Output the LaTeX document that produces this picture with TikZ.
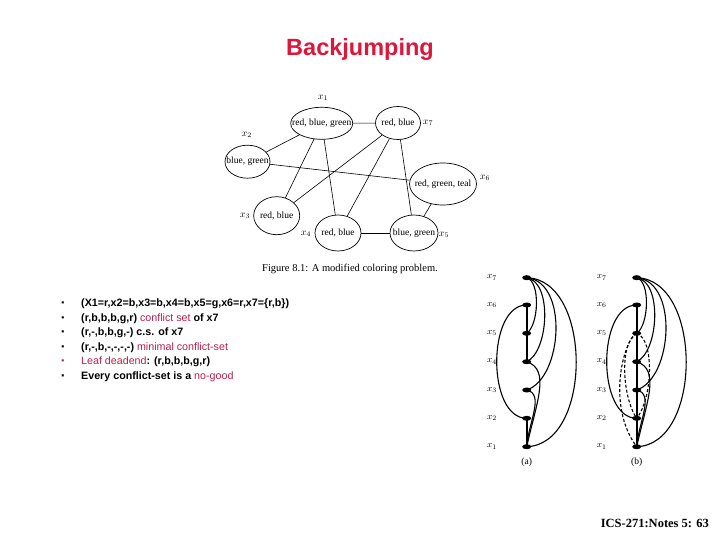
\documentclass[tikz,border=0pt]{standalone}
\usepackage{fontspec}
\setmainfont{Liberation Sans}
\newfontfamily\serifb{Liberation Serif}
\usetikzlibrary{calc,shapes.geometric}
\definecolor{titlered}{RGB}{222,22,60}
\definecolor{txtred}{RGB}{185,30,75}
\begin{document}
\begin{tikzpicture}[x=1pt,y=-1pt,
  vell/.style={draw,ellipse,inner sep=0pt,line width=0.7pt},
  etxt/.style={font=\serifb\fontsize{9.5}{10}\selectfont,inner sep=0pt},
  vlab/.style={font=\fontsize{10}{10}\selectfont,inner sep=0pt},
  gedge/.style={line width=0.6pt},
  bul/.style={anchor=center,inner sep=0pt,font=\fontsize{8.5}{9}\selectfont},
  btxt/.style={anchor=west,inner sep=0pt,font=\bfseries\fontsize{10.7}{12}\selectfont},
  dot/.style={fill,ellipse,minimum width=9pt,minimum height=5pt,inner sep=0pt},
  olab/.style={font=\fontsize{9.5}{10}\selectfont,inner sep=0pt},
  stem/.style={line width=2.2pt},
  arcl/.style={line width=1.1pt},
  darc/.style={line width=1.1pt,dash pattern=on 3pt off 2pt}]
\useasboundingbox (0,0) rectangle (720,540);

% title
\node[font=\bfseries\fontsize{23.5}{26}\selectfont,text=titlered] (title) at (360,49) {Backjumping};

% coloring problem graph
\node[vell,minimum width=62pt,minimum height=32pt] (v1) at (321.7,123.3) {};
\node[vell,minimum width=45pt,minimum height=33pt] (v7) at (398,123) {};
\node[vell,minimum width=45pt,minimum height=33pt] (v2) at (247.5,161.7) {};
\node[vell,minimum width=67pt,minimum height=42pt] (v6) at (443,184) {};
\node[vell,minimum width=46pt,minimum height=38pt] (v3) at (276.7,215.7) {};
\node[vell,minimum width=46pt,minimum height=36pt] (v4) at (338,233) {};
\node[vell,minimum width=48pt,minimum height=36pt] (v5) at (414,233) {};

\draw[gedge] (v1) -- (v7);
\draw[gedge] (v1) -- (v2);
\draw[gedge] (v1) -- (v3);
\draw[gedge] (v1) -- (v4);
\draw[gedge] (v7) -- (v3);
\draw[gedge] (v7) -- (v4);
\draw[gedge] (v7) -- (v5);
\draw[gedge] (v2) -- (v6);
\draw[gedge] (v6) -- (v5);
\draw[gedge] (v4) -- (v5);

\node[etxt,fill=white] (t1) at (v1) {red, blue, green};
\node[etxt,fill=white] (t7) at (v7) {red, blue};
\node[etxt,fill=white] (t2) at (v2) {blue, green};
\node[etxt,fill=white] (t6) at (v6) {red, green, teal};
\node[etxt,fill=white] (t3) at (v3) {red, blue};
\node[etxt,fill=white] (t4) at (v4) {red, blue};
\node[etxt,fill=white] (t5) at (v5) {blue, green};

\node[vlab] (l1) at (323,98) {$x_1$};
\node[vlab] (l2) at (246.7,135) {$x_2$};
\node[vlab] (l3) at (245,216) {$x_3$};
\node[vlab] (l4) at (306,234) {$x_4$};
\node[vlab] (l5) at (444,235) {$x_5$};
\node[vlab] (l6) at (485,178) {$x_6$};
\node[vlab] (l7) at (428,123) {$x_7$};

\node[font=\serifb\fontsize{10.5}{11}\selectfont,inner sep=0pt] (cap) at (350,269) {Figure 8.1: A modified coloring problem.};

% bullet list
\foreach \i/\yy in {1/304,2/319,3/333,4/348,6/377}{
  \node[bul] (b\i) at (63,\yy) {▪};
}
\node[bul,text=txtred] (b5) at (63,362) {▪};
\node[btxt] (s1) at (81,304) {(X1=r,x2=b,x3=b,x4=b,x5=g,x6=r,x7=\{r,b\})};
\node[btxt] (s2) at (81,319) {(r,b,b,b,g,r) \textcolor{txtred}{\mdseries conflict set} of x7};
\node[btxt] (s3) at (81,333) {(r,-,b,b,g,-) c.s. of x7};
\node[btxt] (s4) at (81,348) {(r,-,b,-,-,-,-) \textcolor{txtred}{\mdseries minimal conflict-set}};
\node[btxt] (s5) at (81,362) {\textcolor{txtred}{\mdseries Leaf deadend}: (r,b,b,b,g,r)};
\node[btxt] (s6) at (81,377) {Every conflict-set is a \textcolor{txtred}{\mdseries no-good}};

% ordered graphs (a) and (b)
\foreach \k/\yy in {7/277.7,6/305,5/333.3,4/361.7,3/390,2/418.3,1/446.7}{
  \node[dot] (a\k) at (526.7,\yy) {};
  \node[dot] (b\k) at (636.7,\yy) {};
  \node[olab] (la\k) at (492,\yy) {$x_\k$};
  \node[olab] (lb\k) at (601.7,\yy) {$x_\k$};
}
\node[font=\serifb\fontsize{9.5}{10}\selectfont] (capa) at (526.7,462) {(a)};
\node[font=\serifb\fontsize{9.5}{10}\selectfont] (capb) at (636.7,462) {(b)};

% (a)
\draw[stem] (a6.center) -- (a5.center) -- (a4.center);
\draw[stem] (a2.center) -- (a1.center);
\draw[arcl] (a7.center) .. controls ($(a7)+(14,4)$) and ($(a5)+(12,-8)$) .. (a5.center);
\draw[arcl] (a7.center) .. controls ($(a7)+(26,4)$) and ($(a4)+(22,-10)$) .. (a4.center);
\draw[arcl] (a7.center) .. controls ($(a7)+(42,4)$) and ($(a3)+(36,-12)$) .. (a3.center);
\draw[arcl] (a7.center) .. controls ($(a7)+(66,2)$) and ($(a1)+(66,-2)$) .. (a1.center);
\draw[arcl] (a6.center) .. controls ($(a6)+(-40,0)$) and ($(a2)+(-40,0)$) .. (a2.center);
\draw[arcl] (a4.center) .. controls ($(a4)+(24,8)$) and ($(a1)+(10,-45)$) .. (a1.center);
\draw[arcl] (a3.center) .. controls ($(a3)+(18,4)$) and ($(a1)+(2,-25)$) .. (a1.center);

% (b)
\draw[stem] (b6.center) -- (b1.center);
\draw[arcl] (b7.center) .. controls ($(b7)+(14,4)$) and ($(b5)+(12,-8)$) .. (b5.center);
\draw[arcl] (b7.center) .. controls ($(b7)+(26,4)$) and ($(b4)+(22,-10)$) .. (b4.center);
\draw[arcl] (b7.center) .. controls ($(b7)+(42,4)$) and ($(b3)+(36,-12)$) .. (b3.center);
\draw[arcl] (b7.center) .. controls ($(b7)+(66,2)$) and ($(b1)+(66,-2)$) .. (b1.center);
\draw[arcl] (b6.center) .. controls ($(b6)+(-40,0)$) and ($(b2)+(-40,0)$) .. (b2.center);
\draw[arcl] (b4.center) .. controls ($(b4)+(24,8)$) and ($(b1)+(10,-45)$) .. (b1.center);
\draw[arcl] (b3.center) .. controls ($(b3)+(18,4)$) and ($(b1)+(2,-25)$) .. (b1.center);
\draw[darc] (b5.center) .. controls ($(b5)+(-14,8)$) and ($(b1)+(-30,-40)$) .. (b1.center);
\draw[darc] (b5.center) .. controls ($(b5)+(-18,10)$) and ($(b2)+(-14,-20)$) .. (b2.center);
\draw[darc] (b5.center) .. controls ($(b5)+(18,6)$) and ($(b2)+(16,-20)$) .. (b2.center);

% footer
\node[font=\serifb\bfseries\fontsize{12.5}{14}\selectfont,anchor=east,inner sep=0pt] (foot) at (709,523) {ICS-271:Notes 5: 63};
\end{tikzpicture}
\end{document}
